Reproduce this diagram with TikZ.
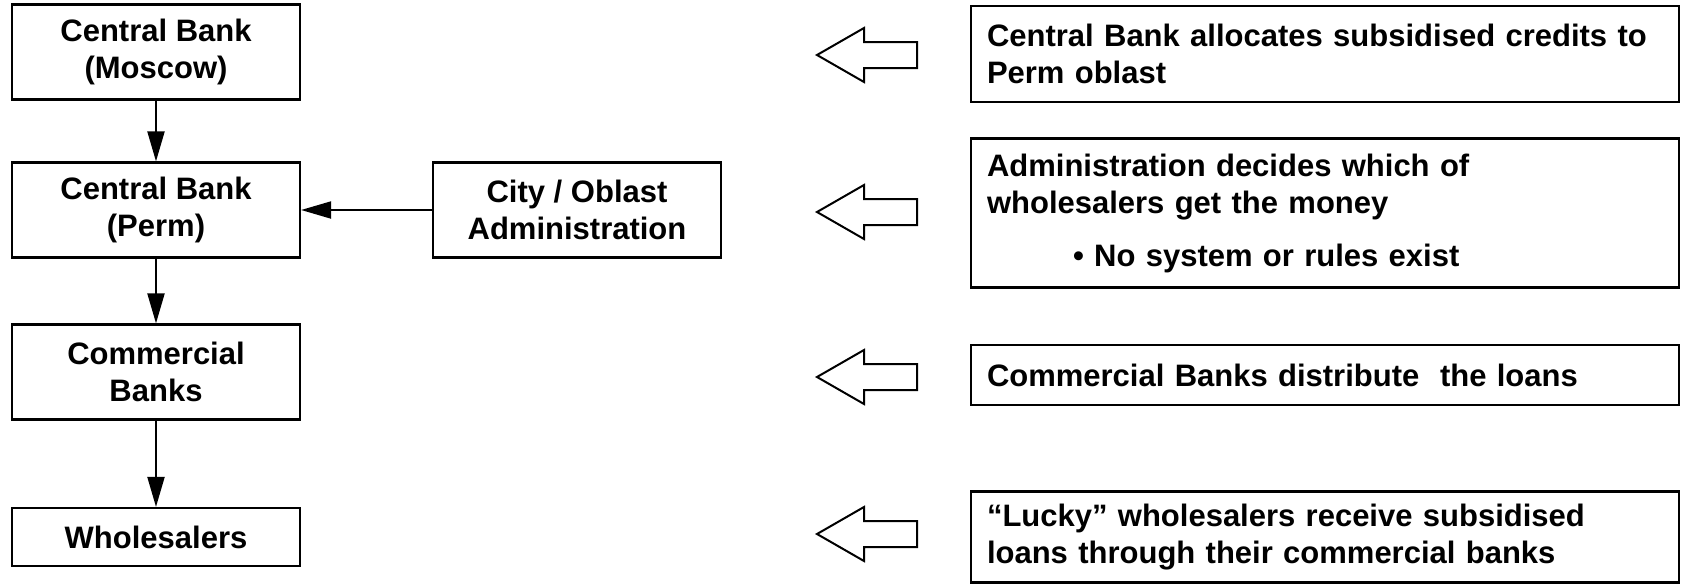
\documentclass[tikz,border=0pt]{standalone}
\usepackage{fontspec}
\setmainfont{Liberation Sans}
\usetikzlibrary{arrows.meta}

\begin{document}
\begin{tikzpicture}[x=0.5pt,y=-0.5pt]
  \tikzset{bank/.style = {shape=rectangle,draw,line width=1.1pt,minimum width=144pt,align=center,font=\bfseries\fontsize{15.5}{18.5}\selectfont}}
  \tikzset{note/.style = {shape=rectangle,draw,line width=1.1pt,text width=338pt,inner xsep=8pt,align=left,font=\bfseries\fontsize{15.5}{18.5}\selectfont}}
  \tikzset{edge/.style = {-{Triangle[length=15pt,width=8.5pt]},line width=1pt}}
  \useasboundingbox (0,0) rectangle (1682,584);

	\node[bank,minimum height=47.5pt] (CBM) at (156,52) {Central Bank\\(Moscow)};
	\node[bank,minimum height=47.5pt] (CBP) at (156,210) {Central Bank\\(Perm)};
	\node[bank,minimum height=47.5pt] (ADM) at (577,210) {City / Oblast\\Administration};
	\node[bank,minimum height=47.5pt] (CB) at (156,372) {Commercial\\Banks};
	\node[bank,minimum height=29pt] (WS) at (156,537) {Wholesalers};

	\node[note,minimum height=48pt] (N1) at (1325,54) {Central Bank allocates subsidised credits to\\Perm oblast};
	\node[note,minimum height=74.5pt] (N2) at (1325,213) {Administration decides which of\\wholesalers get the money\\[8pt]\hspace*{43pt}\textbullet\ No system or rules exist};
	\node[note,minimum height=30pt] (N3) at (1325,375) {Commercial Banks distribute\ \ the loans};
	\node[note,minimum height=45.5pt] (N4) at (1325,537) {“Lucky” wholesalers receive subsidised\\loans through their commercial banks};

    \foreach \from/\to in {CBM/CBP, CBP/CB, CB/WS, ADM/CBP}
    \draw[edge] (\from) -- (\to);

    % hollow block arrows pointing back at the chain
    \foreach \y in {55,212,377,534}
    \draw[line width=1pt] (817,\y) -- (864,\y-27) -- (864,\y-13) -- (917,\y-13)
      -- (917,\y+13) -- (864,\y+13) -- (864,\y+27) -- cycle;

\end{tikzpicture}
\end{document}
